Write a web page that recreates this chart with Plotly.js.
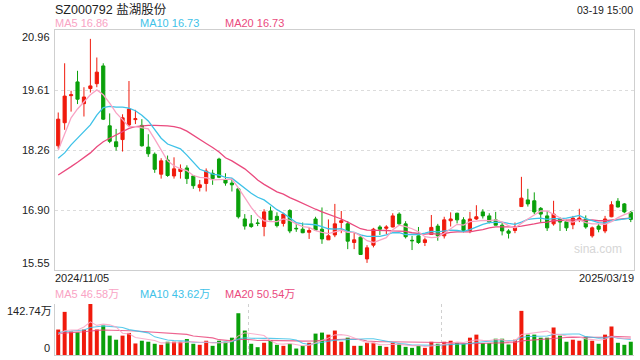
<!DOCTYPE html>
<html>
<head>
<meta charset="utf-8">
<script src="https://cdn.plot.ly/plotly-3.0.1.min.js"></script>
<style>html,body{margin:0;padding:0;background:#fff;}#chart{width:640px;height:360px;}</style>
</head>
<body>
<div id="chart"></div>
<script>
// ---------- data ----------
const title = 'SZ000792 盐湖股份';
const timeLabel = '03-19 15:00';
const xLabels = ['2024/11/05', '2025/03/19'];
const priceTicks = [20.96, 19.61, 18.26, 16.90, 15.55];
const priceGrid = [16.9025, 18.255, 19.6075];
const volTickLabels = ['142.74万', '0'];
const volMax = 142.74;
const maLegend = ['MA5 16.86', 'MA10 16.73', 'MA20 16.73'];
const volLegend = ['MA5 46.58万', 'MA10 43.62万', 'MA20 50.54万'];

const open = [18.35,18.87,19.48,19.79,19.30,19.64,19.75,20.15,18.80,18.44,18.49,18.82,18.94,18.81,18.32,18.16,17.71,18.03,17.67,17.77,
17.85,17.67,17.41,17.50,17.73,18.05,17.58,17.51,17.38,16.70,16.59,16.61,16.53,16.88,16.76,16.60,16.89,16.49,16.47,16.40,
16.70,16.47,16.23,16.34,16.62,16.59,16.17,16.29,15.80,16.11,16.52,16.49,16.52,16.81,16.59,16.22,16.32,16.17,16.35,16.54,
16.32,16.66,16.83,16.68,16.44,16.70,16.86,16.77,16.68,16.56,16.43,16.44,16.98,17.13,17.11,16.94,16.77,16.59,16.70,16.64,
16.57,16.68,16.70,16.32,16.54,16.43,16.75,17.10,17.04,16.85];
const high = [19.10,20.21,19.59,20.04,19.67,20.76,20.34,20.21,19.08,18.73,19.06,19.81,19.16,18.95,18.61,18.20,18.07,18.13,18.09,17.93,
17.91,17.68,17.58,17.84,17.81,18.08,17.73,17.62,17.39,16.81,16.79,16.70,16.92,16.98,16.85,16.84,16.92,16.60,16.62,16.51,
16.75,16.96,16.69,17.04,16.88,16.65,16.39,16.32,16.11,16.50,16.56,16.56,16.83,16.85,16.65,16.32,16.52,16.28,16.79,16.59,
16.75,16.85,16.84,16.74,16.86,17.01,16.92,16.83,16.86,16.61,16.47,16.62,17.65,17.38,17.30,16.97,16.88,17.11,16.74,16.68,
16.77,16.93,16.78,16.53,16.59,16.77,17.10,17.17,17.06,16.88];
const low = [18.28,18.71,19.12,19.29,19.01,19.55,19.67,18.93,18.41,18.24,18.22,18.78,18.84,18.33,18.10,17.74,17.61,17.65,17.61,17.61,
17.49,17.38,17.32,17.32,17.47,17.62,17.45,17.32,16.71,16.46,16.50,16.54,16.31,16.68,16.51,16.53,16.38,16.41,16.38,16.25,
16.44,16.14,16.23,16.29,16.38,16.02,16.02,15.89,15.71,16.06,16.34,16.36,16.51,16.56,16.26,16.00,16.14,16.09,16.34,16.21,
16.26,16.53,16.60,16.40,16.38,16.68,16.71,16.60,16.56,16.33,16.26,16.38,16.97,16.98,16.81,16.63,16.43,16.55,16.43,16.43,
16.47,16.63,16.48,16.28,16.40,16.38,16.74,16.96,16.83,16.63];
const close = [18.95,19.47,19.50,19.40,19.45,19.70,20.01,18.95,18.45,18.33,18.98,19.18,18.96,18.35,18.17,17.82,18.01,17.68,17.83,17.83,
17.61,17.45,17.47,17.78,17.61,17.64,17.51,17.47,16.75,16.54,16.53,16.60,16.86,16.68,16.55,16.81,16.43,16.48,16.39,16.44,
16.45,16.25,16.32,16.59,16.66,16.20,16.23,15.90,16.05,16.47,16.47,16.52,16.77,16.59,16.30,16.21,16.17,16.23,16.51,16.32,
16.68,16.70,16.68,16.44,16.70,16.75,16.77,16.63,16.56,16.43,16.38,16.50,17.17,17.04,16.86,16.81,16.50,16.81,16.63,16.50,
16.72,16.72,16.52,16.50,16.47,16.70,17.02,16.97,16.86,16.69];

const ma5 = [18.25,18.62,18.98,19.18,19.35,19.50,19.61,19.50,19.31,19.09,18.94,18.78,18.78,18.76,18.73,18.50,18.26,18.01,17.90,17.83,
17.79,17.68,17.64,17.63,17.58,17.59,17.60,17.60,17.40,17.18,16.96,16.78,16.66,16.64,16.64,16.70,16.67,16.59,16.53,16.51,
16.44,16.40,16.37,16.41,16.45,16.40,16.40,16.32,16.21,16.17,16.22,16.28,16.46,16.56,16.53,16.48,16.41,16.30,16.28,16.29,
16.38,16.49,16.58,16.56,16.64,16.65,16.67,16.66,16.68,16.63,16.55,16.50,16.61,16.70,16.79,16.88,16.88,16.80,16.72,16.65,
16.63,16.68,16.62,16.59,16.59,16.58,16.64,16.73,16.80,16.85];
const ma10 = [18.07,18.19,18.37,18.52,18.67,18.82,19.04,19.21,19.24,19.22,19.22,19.20,19.14,19.04,18.91,18.72,18.52,18.39,18.33,18.28,
18.14,17.97,17.82,17.77,17.71,17.69,17.64,17.62,17.51,17.38,17.28,17.19,17.13,17.02,16.91,16.83,16.72,16.62,16.59,16.58,
16.57,16.53,16.48,16.47,16.48,16.42,16.40,16.34,16.31,16.31,16.31,16.34,16.39,16.39,16.35,16.35,16.35,16.38,16.42,16.41,
16.43,16.45,16.44,16.42,16.46,16.52,16.58,16.62,16.62,16.63,16.60,16.58,16.63,16.69,16.71,16.72,16.69,16.71,16.71,16.72,
16.75,16.78,16.71,16.66,16.62,16.61,16.66,16.68,16.70,16.72];
const ma20 = [17.69,17.78,17.88,17.98,18.08,18.19,18.33,18.44,18.52,18.59,18.67,18.74,18.78,18.80,18.81,18.81,18.81,18.80,18.78,18.75,
18.68,18.58,18.48,18.40,18.31,18.21,18.08,18.01,17.92,17.83,17.71,17.58,17.48,17.39,17.31,17.26,17.18,17.12,17.05,16.98,
16.92,16.86,16.81,16.75,16.70,16.63,16.56,16.48,16.45,16.45,16.44,16.44,16.43,16.43,16.42,16.39,16.37,16.36,16.37,16.36,
16.37,16.40,16.41,16.41,16.41,16.44,16.46,16.50,16.52,16.52,16.52,16.52,16.54,16.56,16.59,16.62,16.63,16.66,16.67,16.68,
16.68,16.68,16.67,16.68,16.66,16.66,16.67,16.69,16.71,16.72];

const volume = [71.3,120.7,65.6,63.7,71.3,142.7,71.3,82.7,54.2,42.8,54.2,61.8,32.3,39.9,37.1,31.4,28.5,37.1,37.1,37.1,
44.7,31.4,28.5,39.9,25.7,39.9,37.1,48.5,116.9,68.4,31.4,21.9,34.2,41.8,28.5,25.7,31.4,18.1,25.7,34.2,
59.9,62.7,57.0,68.4,37.1,48.5,25.7,25.7,34.2,34.2,25.7,22.8,34.2,31.4,22.8,20.0,25.7,20.0,37.1,31.4,
37.1,39.9,34.2,31.4,48.5,57.0,33.3,33.3,45.6,45.6,29.5,42.8,123.5,57.0,57.0,48.5,48.5,77.0,54.2,37.1,
42.8,39.9,51.3,39.9,31.4,57.0,79.8,34.2,28.5,37.1];
const vma5 = [57,68,70,70,78.5,92.8,82.9,86.3,84.4,78.7,61.0,59.1,49.1,46.2,45.1,40.5,33.8,34.8,34.2,34.2,
36.9,37.5,35.8,36.3,34.0,33.1,34.2,38.2,53.6,62.2,60.5,57.4,54.6,39.5,31.6,30.4,32.3,29.1,25.9,27.0,
33.9,40.1,47.9,56.4,57.0,54.7,47.3,41.1,34.2,33.7,29.1,28.5,30.2,29.7,27.4,26.2,26.8,24.0,25.1,26.8,
30.3,33.1,35.9,34.8,38.2,42.2,40.9,40.7,43.5,43.0,37.5,39.4,57.4,59.7,62.0,65.8,66.9,57.6,57.0,53.1,
51.9,50.2,45.1,42.2,41.1,43.9,51.9,48.5,46.2,46.6];
const vma10 = [62,66,67,68,70,77,80,81,80,78.6,76.9,71.0,67.7,65.3,61.9,50.8,46.5,41.9,40.2,39.7,
38.7,35.7,35.3,35.3,34.1,35.0,35.9,37.0,45.0,48.1,46.8,45.8,46.4,46.6,46.9,45.4,44.9,41.8,32.7,29.3,
32.1,36.2,38.5,41.2,42.0,44.3,43.7,44.5,45.3,45.3,41.9,37.9,35.7,32.0,30.5,27.7,27.7,27.1,27.4,27.1,
28.3,30.0,30.0,30.0,32.5,36.2,37.0,38.3,39.2,40.6,39.8,40.1,49.1,51.6,52.5,51.6,53.1,57.5,58.4,57.5,
58.8,58.6,51.3,49.6,47.1,47.9,51.0,46.8,44.2,43.6];
const vma20 = [60,62,63,64,65,68,69,70,70,70,69,68,67,66,65,64,62,61,60,59.1,
57.8,53.3,51.5,50.3,48.0,42.9,41.2,39.5,42.6,43.9,42.7,40.7,40.8,40.9,40.5,40.2,40.4,39.4,38.8,38.7,
39.5,41.0,42.4,43.9,44.4,44.9,44.3,43.2,39.0,37.3,37.0,37.1,37.1,36.6,36.3,36.0,35.7,35.8,36.4,36.2,
35.1,33.9,32.8,31.0,31.5,32.0,32.3,32.7,33.3,33.9,34.0,35.0,39.5,40.8,42.5,43.9,45.1,47.9,48.8,49.1,
49.3,49.3,50.2,50.6,49.8,49.8,52.1,52.1,51.3,50.5];

// ---------- styling ----------
const RED = '#f01a0c';
const GREEN = '#0aa00a';
const C5 = '#f9a3c4';
const C10 = '#3ec2e8';
const C20 = '#ea4a7e';
const FONT = 'Arial, "Liberation Sans", "Noto Sans CJK SC", sans-serif';
const idx = close.map((_, i) => i);
const X = p => p / 640;
const Y = p => 1 - p / 360;
const barColors = close.map((c, i) => (c >= open[i] ? RED : GREEN));

const traces = [
  {type: 'scatter', mode: 'lines', x: idx, y: ma20, line: {color: C20, width: 1.3}, hoverinfo: 'skip'},
  {type: 'scatter', mode: 'lines', x: idx, y: ma10, line: {color: C10, width: 1.3}, hoverinfo: 'skip'},
  {type: 'scatter', mode: 'lines', x: idx, y: ma5, line: {color: C5, width: 1.3}, hoverinfo: 'skip'},
  {type: 'candlestick', x: idx, open: open, high: high, low: low, close: close,
   increasing: {line: {color: RED, width: 1}, fillcolor: RED},
   decreasing: {line: {color: GREEN, width: 1}, fillcolor: GREEN},
   whiskerwidth: 0, hoverinfo: 'skip'},
  {type: 'bar', x: idx, y: volume, xaxis: 'x2', yaxis: 'y2', marker: {color: barColors, line: {width: 0}}, width: 0.62, hoverinfo: 'skip'},
  {type: 'scatter', mode: 'lines', x: idx, y: vma20, xaxis: 'x2', yaxis: 'y2', line: {color: C20, width: 1.1}, opacity: 0.85, hoverinfo: 'skip'},
  {type: 'scatter', mode: 'lines', x: idx, y: vma10, xaxis: 'x2', yaxis: 'y2', line: {color: C10, width: 1.1}, opacity: 0.85, hoverinfo: 'skip'},
  {type: 'scatter', mode: 'lines', x: idx, y: vma5, xaxis: 'x2', yaxis: 'y2', line: {color: C5, width: 1.1}, opacity: 0.85, hoverinfo: 'skip'}
];

const ann = [];
function text(t, x, y, anchor, size, color, yref, yanchor) {
  ann.push({text: t, x: x, y: y, xref: 'paper', yref: yref || 'paper', xanchor: anchor, yanchor: yanchor || 'middle',
    showarrow: false, font: {family: FONT, size: size, color: color}, borderpad: 0});
}
text(title, X(54), Y(9), 'left', 12.5, '#222');
text(timeLabel, X(634), Y(10), 'right', 10.5, '#222');
[C5, C10, C20].forEach((c, i) => text(maLegend[i], X([54, 139, 224][i]), Y(23), 'left', 11, c));
[C5, C10, C20].forEach((c, i) => text(volLegend[i], X([54, 139, 224][i]), Y(294), 'left', 11, c));
priceTicks.forEach((v, i) => text(priceTicks[i].toFixed(2), X(51), v, 'right', 11, '#222', 'y',
  i === 0 ? 'top' : (i === priceTicks.length - 1 ? 'bottom' : 'middle')));
text(volTickLabels[0], X(53), volMax, 'right', 11, '#222', 'y2', 'top');
text(volTickLabels[1], X(51), 0, 'right', 11, '#222', 'y2', 'bottom');
text(xLabels[0], X(54), Y(278), 'left', 11, '#222');
text(xLabels[1], X(635), Y(278), 'right', 11, '#222');
text('sina.com', X(623), Y(249), 'right', 12, '#d6d6d6');

const layout = {
  width: 640, height: 360,
  margin: {l: 0, r: 0, t: 0, b: 0, pad: 0},
  paper_bgcolor: '#fff', plot_bgcolor: '#fff',
  showlegend: false,
  xaxis: {domain: [X(55), X(634)], range: [-0.5, 89.5], anchor: 'y', showticklabels: false, showgrid: false,
    zeroline: false, showline: true, mirror: true, linecolor: '#cfcfcf', linewidth: 1, ticks: '',
    rangeslider: {visible: false}, fixedrange: true},
  yaxis: {domain: [Y(270), Y(30)], range: [15.55, 20.96], tickvals: priceGrid, showticklabels: false,
    showgrid: true, gridcolor: '#dcdcdc', griddash: 'dot', gridwidth: 1, zeroline: false,
    showline: true, mirror: true, linecolor: '#cfcfcf', linewidth: 1, ticks: '', fixedrange: true},
  xaxis2: {domain: [X(55), X(634)], range: [-0.5, 89.5], anchor: 'y2', matches: 'x', showticklabels: false,
    tickvals: [29.5, 59.5, 89.5], showgrid: true, gridcolor: '#d0d0d0', griddash: 'dot', zeroline: false,
    showline: true, linecolor: '#cfcfcf', ticks: '', fixedrange: true},
  yaxis2: {domain: [Y(355), Y(304)], range: [0, volMax], tickvals: [volMax], showticklabels: false,
    showgrid: true, gridcolor: '#d0d0d0', griddash: 'dot', zeroline: false,
    showline: true, linecolor: '#cfcfcf', ticks: '', fixedrange: true},
  annotations: ann,
  bargap: 0.3
};

Plotly.newPlot('chart', traces, layout, {displayModeBar: false, staticPlot: true});
</script>
</body>
</html>
